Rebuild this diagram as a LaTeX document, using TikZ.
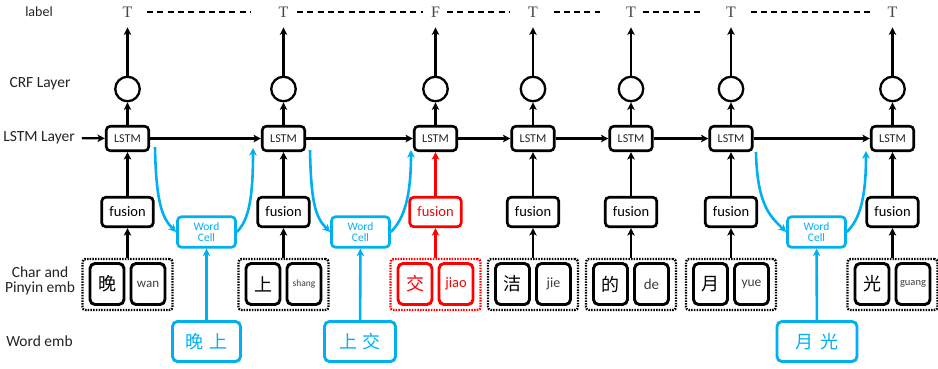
\documentclass[tikz,border=0pt]{standalone}
\usepackage{fontspec}
\newfontfamily\cf{Carlito}
\newfontfamily\cjk{Noto Sans CJK SC}
\newfontfamily\tf{Liberation Serif}
\usetikzlibrary{arrows.meta}
\definecolor{wblue}{RGB}{0,176,240}
\definecolor{txt}{RGB}{35,35,35}
\definecolor{pgray}{RGB}{60,60,60}
\definecolor{lgray}{RGB}{70,70,70}
\definecolor{wred}{RGB}{255,0,0}
\tikzset{
  arr/.style={line width=2.2pt, -{Stealth[length=7.5pt,width=7.5pt,inset=2pt]}},
  barr/.style={arr, draw=wblue, line width=2.6pt},
  lstmbox/.style={draw, line width=2.6pt, rounded corners=4pt, minimum width=42.5pt, minimum height=24.5pt, inner sep=0pt, text=txt, font=\cf\fontsize{12}{12}\selectfont},
  crf/.style={draw, circle, line width=2.3pt, minimum size=24.5pt, inner sep=0pt},
  fusionbox/.style={draw, line width=2.7pt, rounded corners=4pt, minimum width=51.5pt, minimum height=29.5pt, inner sep=0pt, font=\cf\fontsize{14.5}{14.5}\selectfont},
  cellbox/.style={draw=wblue, text=wblue, line width=2.7pt, rounded corners=4pt, minimum width=58pt, minimum height=30.5pt, inner sep=0pt, align=center, font=\cf\fontsize{11.5}{10.5}\selectfont},
  embbox/.style={line width=2.9pt, rounded corners=5pt, minimum width=34pt, minimum height=41pt, inner sep=0pt},
  grpbox/.style={line width=2.4pt, dash pattern=on 1.5pt off 1.2pt, rounded corners=3pt, minimum width=90pt, minimum height=51pt},
  wembbox/.style={draw=wblue, text=wblue, line width=2.9pt, rounded corners=5pt, minimum height=40pt, inner sep=0pt, font=\cjk\fontsize{18}{18}\selectfont},
  lab/.style={inner sep=0pt, text=lgray, font=\tf\fontsize{16}{16}\selectfont},
  side/.style={inner sep=0pt, text=txt, align=center, font=\cf\fontsize{15.5}{15}\selectfont},
  dashl/.style={line width=2.8pt, draw=black, dash pattern=on 6pt off 4.3pt}
}
\begin{document}
\begin{tikzpicture}[x=1pt,y=-1pt]
\useasboundingbox (0,0) rectangle (938,368);

% side labels
\node[side, font=\cf\fontsize{14}{14}\selectfont] (sl1) at (39,12) {label};
\node[side] (sl2) at (40,84) {CRF Layer};
\node[side] (sl3) at (39,138) {LSTM Layer};
\node[side] (sl4) at (40,281) {Char and\\Pinyin emb};
\node[side] (sl5) at (39.5,341) {Word emb};

% columns
\foreach \i/\x/\lb/\ch/\py/\ps/\col/\pc in {
  1/127.5/T/晚/wan/13/black/pgray,
  2/283.5/T/上/shang/9.5/black/pgray,
  3/435.5/F/交/jiao/14.5/wred/wred,
  4/533/T/洁/jie/14/black/pgray,
  5/631/T/的/de/15/black/pgray,
  6/731/T/月/yue/13.5/black/pgray,
  7/892.5/T/光/guang/10.5/black/pgray}{
  \node[lab] (t\i) at (\x,12) {\lb};
  \node[crf] (c\i) at (\x,89) {};
  \node[lstmbox] (l\i) at (\x,138.5) {LSTM};
  \node[fusionbox, draw=\col, text=\col] (f\i) at (\x,212) {fusion};
  \node[grpbox, draw=\col] (g\i) at (\x,284.5) {};
  \node[embbox, draw=\col, text=\col, font=\cjk\fontsize{18}{18}\selectfont] (ch\i) at (\x-20.5,284) {\ch};
  \node[embbox, draw=\col, text=\pc, font=\cf\fontsize{\ps}{\ps}\selectfont] (py\i) at (\x+20.5,284) {\py};
  \draw[arr] (l\i) -- (c\i);
  \draw[arr, shorten >=10pt] (c\i) -- (t\i);
  \draw[arr, draw=\col] (f\i) -- (l\i);
  \draw[arr, draw=\col] (g\i) -- (f\i);
}

% LSTM chain
\draw[arr, shorten <=7pt] (sl3) -- (l1);
\foreach \a/\b in {1/2,2/3,3/4,4/5,5/6,6/7} \draw[arr] (l\a) -- (l\b);

% dashed label links
\foreach \a/\b/\s/\e in {1/2/14.5/27.5, 2/3/8.5/8, 3/4/7/18.5, 4/5/15.5/25.5, 5/6/6.5/23.5, 6/7/14.5/14.5}
  \draw[dashl, shorten <=\s pt, shorten >=\e pt] (t\a) -- (t\b);

% word cells and embeddings
\node[cellbox] (w1) at (206.5,232) {Word\\Cell};
\node[cellbox] (w2) at (360.5,232) {Word\\Cell};
\node[cellbox] (w3) at (816.5,232) {Word\\Cell};
\node[wembbox, minimum width=68pt] (e1) at (206.5,341.5) {晚\hspace{6pt}上};
\node[wembbox, minimum width=71pt] (e2) at (360,341.5) {上\hspace{6pt}交};
\node[wembbox, minimum width=80pt] (e3) at (817,341.5) {月\hspace{7pt}光};
\draw[barr] (e1) -- (w1);
\draw[barr] (e2) -- (w2);
\draw[barr] (e3) -- (w3);

\coordinate (s1) at (155,147); \coordinate (n1) at (253,148);
\coordinate (s2) at (310,150); \coordinate (n2) at (411,150);
\coordinate (s3) at (756,152); \coordinate (n3) at (866,151);
\foreach \k in {1,2,3}{
  \draw[barr] (s\k) .. controls +(1,55) and +(-14,-14) .. (w\k.west);
  \draw[barr] (w\k.east) .. controls +(12,-12) and +(0,50) .. (n\k);
}
\end{tikzpicture}
\end{document}
